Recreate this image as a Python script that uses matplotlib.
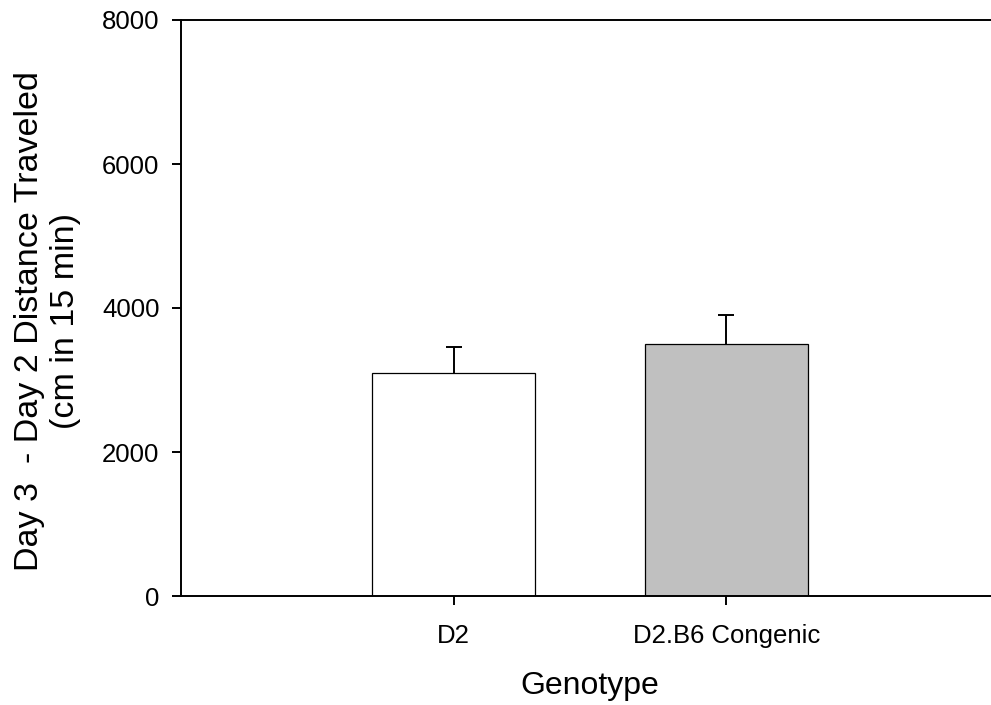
import numpy as np
import matplotlib
matplotlib.use("Agg")
import matplotlib.pyplot as plt

# Data
genotypes = ["D2", "D2.B6 Congenic"]
distance_diff = [3100, 3500]
sem_upper = [360, 400]
bar_colors = ["white", "#c0c0c0"]
y_ticks = [0, 2000, 4000, 6000, 8000]

plt.rcParams["font.family"] = ["Liberation Sans", "DejaVu Sans"]

fig = plt.figure(figsize=(9.91, 7.05), dpi=100)
ax = fig.add_axes([181 / 991, 109 / 705, 818 / 991, 576 / 705])

x = np.arange(1, len(genotypes) + 1)
tops = np.add(distance_diff, sem_upper)

# upward-only error bars, drawn behind the bars
ax.vlines(x, distance_diff, tops, color="black", linewidth=1.4, zorder=1)
ax.plot(x, tops, ls="none", marker="_", markersize=12, markeredgewidth=1.4,
        color="black", zorder=1)
ax.bar(x, distance_diff, width=0.6, color=bar_colors, edgecolor="black",
       linewidth=0.9, zorder=2)

ax.set_xlim(0, 3)
ax.set_ylim(0, 8000)
ax.set_xticks(x)
ax.set_xticklabels(genotypes)
ax.set_yticks(y_ticks)

ax.spines["right"].set_visible(False)
for side in ["left", "bottom", "top"]:
    ax.spines[side].set_linewidth(1.4)
ax.tick_params(axis="both", direction="out", length=6.5, width=1.4,
               labelsize=18.5, pad=9)
ax.tick_params(axis="x", pad=14)

ax.set_xlabel("Genotype", fontsize=23, labelpad=16)
fig.text(0.048, 0.545, "Day 3  - Day 2 Distance Traveled\n(cm in 15 min)",
         rotation=90, ha="center", va="center", multialignment="center",
         fontsize=24.5, linespacing=1.2)

fig.savefig("out.png", dpi=100)
